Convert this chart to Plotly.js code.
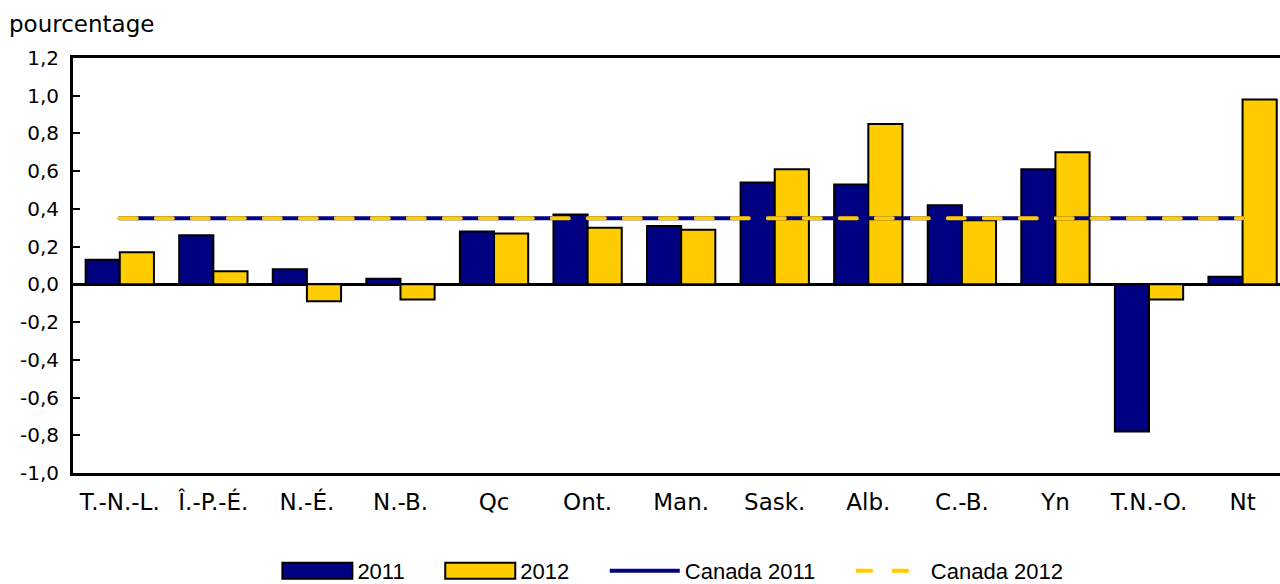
<!DOCTYPE html>
<html><head><meta charset="utf-8">
<script src="https://cdn.plot.ly/plotly-3.0.1.min.js"></script>
<style>html,body{margin:0;padding:0;background:#fff}#chart{width:1280px;height:584px}
.scatterlayer .js-line{stroke-linecap:round}</style>
</head><body><div id="chart"></div>
<script>
const categories = ['T.-N.-L.','Î.-P.-É.','N.-É.','N.-B.','Qc','Ont.','Man.','Sask.','Alb.','C.-B.','Yn','T.N.-O.','Nt'];
const values2011 = [0.13,0.26,0.08,0.03,0.28,0.37,0.31,0.54,0.53,0.42,0.61,-0.78,0.04];
const values2012 = [0.17,0.07,-0.09,-0.08,0.27,0.30,0.29,0.61,0.85,0.34,0.70,-0.08,0.98];
const canada2011 = 0.35;
const canada2012 = 0.35;
const yTicks = [-1.0,-0.8,-0.6,-0.4,-0.2,0,0.2,0.4,0.6,0.8,1.0,1.2];
const yTickText = yTicks.map(v => v.toFixed(1).replace('.', ','));
const seriesNames = ['2011', '2012', 'Canada 2011', 'Canada 2012'];

const navy = '#000080', gold = '#FFCC00';
const fam = 'DejaVu Sans, Verdana, sans-serif';
const pad = '\u00a0\u00a0\u00a0\u00a0\u00a0';

const traces = [
  {type:'bar', name:seriesNames[0] + pad, x:categories, y:values2011,
   marker:{color:navy, line:{color:'#000', width:2}}},
  {type:'bar', name:seriesNames[1] + pad, x:categories, y:values2012,
   marker:{color:gold, line:{color:'#000', width:2}}},
  {type:'scatter', mode:'lines', name:seriesNames[2] + pad, x:categories,
   y:categories.map(()=>canada2011), line:{color:navy, width:4}},
  {type:'scatter', mode:'lines', name:seriesNames[3], x:categories,
   y:categories.map(()=>canada2012), line:{color:gold, width:4, dash:'17px,19px'}}
];

const layout = {
  width:1280, height:584,
  margin:{l:73, r:0, t:58, b:111, autoexpand:false},
  paper_bgcolor:'#fff', plot_bgcolor:'#fff',
  font:{family:fam, size:20, color:'#000'},
  barmode:'group', bargap:0.27, bargroupgap:0,
  showlegend:true,
  legend:{orientation:'h', x:0.497, xanchor:'center', y:-0.236, yanchor:'middle',
    font:{family:'Liberation Sans, Arial, sans-serif', size:22, color:'#000'},
    itemwidth:70, traceorder:'normal', bgcolor:'rgba(0,0,0,0)'},
  xaxis:{type:'category', range:[-0.5, 12.4], showgrid:false, zeroline:false,
    showline:true, linecolor:'#000', linewidth:3, mirror:true, ticks:'',
    ticklabelstandoff:6, tickfont:{family:fam, size:23, color:'#000'}},
  yaxis:{range:[-1.0,1.2], tickvals:yTicks, ticktext:yTickText, showgrid:false,
    zeroline:true, zerolinecolor:'#000', zerolinewidth:3,
    showline:true, linecolor:'#000', linewidth:3,
    ticks:'inside', ticklen:7, tickwidth:2, tickcolor:'#000',
    ticklabelstandoff:7, tickfont:{family:fam, size:20, color:'#000'}},
  annotations:[{text:'pourcentage', xref:'paper', yref:'paper', x:-0.055, y:1.082,
    xanchor:'left', yanchor:'middle', showarrow:false,
    font:{family:fam, size:23, color:'#000'}}]
};
Plotly.newPlot('chart', traces, layout, {displayModeBar:false, staticPlot:true}).then(gd => {
  // widen bar swatches in the legend to match the reference's long rectangles
  gd.querySelectorAll('.legend .legendpoints path').forEach(p => {
    const d = p.getAttribute('d') || '';
    if (d.indexOf('M6,6H-6V-6H6Z') === 0) p.setAttribute('d', 'M35,8H-35V-8H35Z');
  });
  const sb = gd.querySelector('.legend .scrollbox');
  if (sb) sb.removeAttribute('clip-path');
});
</script></body></html>
